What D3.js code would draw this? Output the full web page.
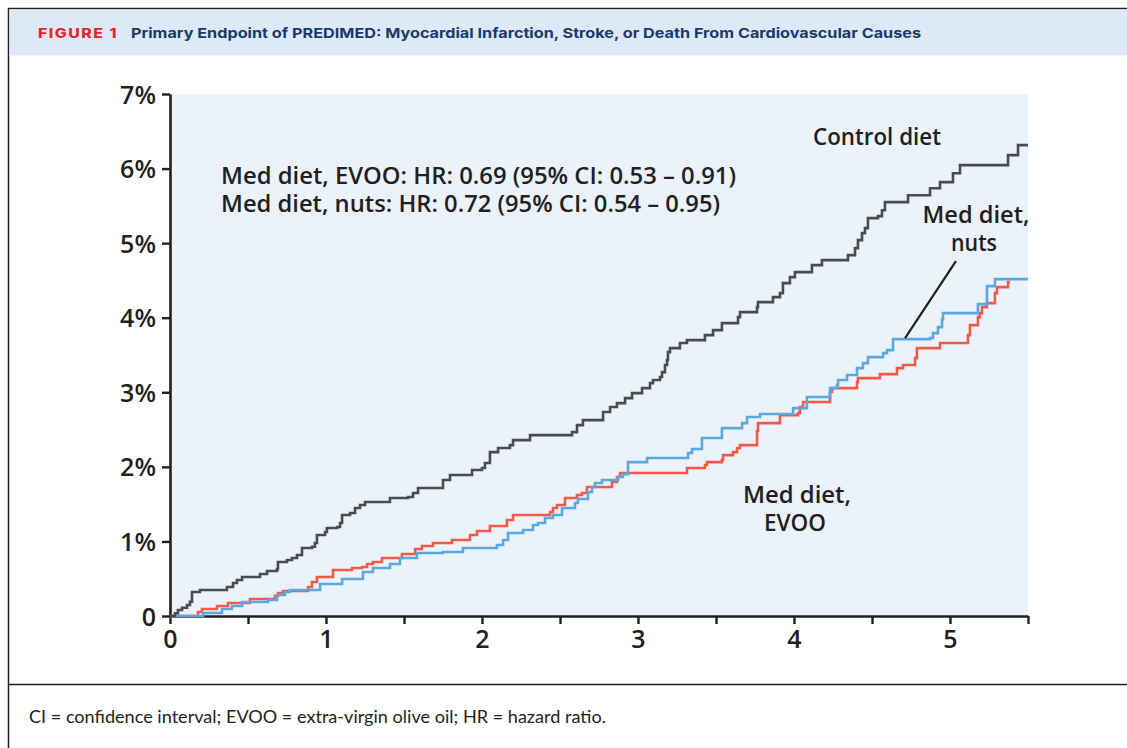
<!DOCTYPE html>
<html><head><meta charset="utf-8">
<script src="https://cdn.jsdelivr.net/npm/d3@7"></script>
<style>
html,body{margin:0;padding:0;background:#fff;}
svg{display:block;}
</style></head>
<body>
<svg id="chart" width="1127" height="748"></svg>
<script>
// ---------------- DATA ----------------
const figureLabel = "FIGURE 1";
const title = "Primary Endpoint of PREDIMED: Myocardial Infarction, Stroke, or Death From Cardiovascular Causes";
const footnote = "CI = confidence interval; EVOO = extra-virgin olive oil; HR = hazard ratio.";
const yTicks = [0,1,2,3,4,5,6,7];
const yTickLabels = ["0","1%","2%","3%","4%","5%","6%","7%"];
const xTicks = [0,0.5,1,1.5,2,2.5,3,3.5,4,4.5,5,5.5];
const xTickLabels = ["0","","1","","2","","3","","4","","5",""];
const hrLines = ["Med diet, EVOO: HR: 0.69 (95% CI: 0.53 \u2013 0.91)",
                 "Med diet, nuts: HR: 0.72 (95% CI: 0.54 \u2013 0.95)"];

// Control diet (years, cumulative %)
const controlTime = [0,0.032,0.051,0.077,0.109,0.128,0.141,0.192,0.365,0.404,0.429,0.462,0.577,0.622,0.686,0.692,0.750,0.782,0.814,0.846,0.910,0.929,0.942,0.994,1.006,1.071,1.090,1.103,1.154,1.186,1.218,1.250,1.410,1.526,1.558,1.590,1.750,1.795,1.936,2.000,2.019,2.051,2.103,2.179,2.199,2.308,2.577,2.609,2.647,2.776,2.821,2.865,2.917,2.962,3.026,3.077,3.096,3.141,3.154,3.173,3.186,3.192,3.205,3.269,3.314,3.429,3.481,3.538,3.641,3.654,3.763,3.769,3.865,3.910,3.929,3.974,4.006,4.115,4.179,4.346,4.391,4.410,4.436,4.455,4.474,4.538,4.564,4.583,4.731,4.872,4.936,5.019,5.064,5.372,5.436,5.5];
const controlPct  = [0,0.036,0.080,0.111,0.147,0.192,0.322,0.349,0.389,0.442,0.483,0.523,0.563,0.603,0.630,0.724,0.751,0.777,0.818,0.912,0.929,0.979,1.086,1.126,1.180,1.193,1.247,1.354,1.381,1.448,1.488,1.528,1.582,1.595,1.649,1.716,1.823,1.890,1.957,1.984,2.051,2.198,2.252,2.292,2.359,2.426,2.466,2.560,2.627,2.735,2.802,2.855,2.922,2.989,3.056,3.123,3.164,3.204,3.271,3.365,3.432,3.539,3.592,3.660,3.700,3.767,3.834,3.928,4.008,4.075,4.142,4.209,4.276,4.330,4.464,4.544,4.611,4.705,4.772,4.839,4.933,5.040,5.134,5.201,5.335,5.362,5.442,5.550,5.643,5.737,5.818,5.938,6.046,6.180,6.314,6.314];

// Med diet, EVOO
const evooTime = [0,0.179,0.205,0.301,0.372,0.513,0.673,0.692,0.724,0.885,0.910,0.942,1.045,1.167,1.231,1.263,1.301,1.359,1.487,1.571,1.615,1.686,1.808,1.923,1.968,2.051,2.160,2.199,2.436,2.455,2.481,2.532,2.609,2.641,2.673,2.833,2.865,2.885,3.314,3.429,3.442,3.538,3.545,3.609,3.635,3.654,3.763,3.769,3.910,4.026,4.038,4.058,4.231,4.244,4.404,4.410,4.551,4.660,4.699,4.776,4.788,4.936,5.115,5.128,5.179,5.192,5.205,5.237,5.288,5.301,5.372,5.385];
const evooPct  = [0,0.054,0.094,0.134,0.174,0.228,0.268,0.308,0.335,0.389,0.456,0.523,0.617,0.643,0.657,0.697,0.724,0.777,0.831,0.898,0.938,0.979,1.019,1.086,1.139,1.206,1.287,1.354,1.394,1.448,1.488,1.582,1.622,1.649,1.729,1.796,1.863,1.917,1.984,2.024,2.064,2.091,2.158,2.198,2.252,2.292,2.480,2.587,2.694,2.721,2.802,2.869,3.003,3.056,3.137,3.190,3.244,3.324,3.365,3.458,3.592,3.660,3.767,3.901,4.008,4.062,4.142,4.196,4.330,4.410,4.477,4.477];

// Med diet, nuts
const nutsTime = [0,0.212,0.333,0.397,0.462,0.628,0.686,0.737,0.769,0.962,1.103,1.237,1.301,1.410,1.474,1.583,1.750,1.878,2.096,2.135,2.167,2.263,2.327,2.359,2.404,2.455,2.513,2.596,2.615,2.679,2.705,2.724,2.769,2.872,2.904,2.936,3.058,3.321,3.346,3.410,3.538,3.667,3.699,3.782,3.994,4.083,4.231,4.276,4.282,4.340,4.404,4.442,4.474,4.571,4.596,4.635,4.872,4.891,4.923,4.949,4.955,5.179,5.237,5.288,5.5];
const nutsPct  = [0,0.040,0.094,0.134,0.188,0.214,0.282,0.322,0.349,0.429,0.496,0.590,0.643,0.697,0.777,0.845,0.858,0.912,0.952,1.019,1.113,1.153,1.220,1.247,1.314,1.354,1.448,1.515,1.568,1.662,1.729,1.783,1.823,1.863,1.903,2.064,2.118,2.185,2.239,2.386,2.520,2.587,2.668,2.708,2.788,2.936,3.056,3.097,3.164,3.231,3.324,3.391,3.472,3.525,3.566,3.713,3.727,3.794,3.874,3.981,4.062,4.182,4.424,4.517,4.517];

// pointer line for "Med diet, nuts" label (data coords)
const pointerX = [4.712, 5.038];
const pointerY = [3.727, 4.759];

// ---------------- DRAW ----------------
const svg = d3.select("#chart");
const W = 1127, H = 748;
const plot = {left:170, right:1028, top:94, bottom:616};
const font = "'Open Sans', 'Noto Sans', sans-serif";

function fit(sel, len){ // pin a text run to a measured width
  sel.attr("textLength", len).attr("lengthAdjust","spacingAndGlyphs");
  return sel;
}

// outer frame
svg.append("rect").attr("x",8.5).attr("y",8.5).attr("width",W+10).attr("height",H+10)
  .attr("fill","#fff").attr("stroke","#231f20").attr("stroke-width",1.5);
// header band
svg.append("rect").attr("x",9.5).attr("y",9.5).attr("width",W).attr("height",46)
  .attr("fill","#dde9f6");
fit(svg.append("text").attr("x",38).attr("y",38)
  .attr("font-family","Inter, Lato, sans-serif").attr("font-weight",800)
  .attr("font-size",13).attr("letter-spacing",1.2).attr("fill","#e8252d").text(figureLabel), 80);
fit(svg.append("text").attr("x",131).attr("y",38)
  .attr("font-family","Inter, Lato, sans-serif").attr("font-weight",700)
  .attr("font-size",13.8).attr("fill","#173a6b").text(title), 790);

// footer line + text
svg.append("line").attr("x1",9).attr("x2",W).attr("y1",684.5).attr("y2",684.5)
  .attr("stroke","#231f20").attr("stroke-width",1.5);
fit(svg.append("text").attr("x",29).attr("y",723).attr("font-family","Lato, sans-serif")
  .attr("font-size",17.5).attr("fill","#231f20").text(footnote), 577);

const x = d3.scaleLinear().domain([0,5.5]).range([plot.left,plot.right]);
const y = d3.scaleLinear().domain([0,7]).range([plot.bottom,plot.top]);

// plot background
svg.append("rect").attr("x",x(0)).attr("y",y(7)).attr("width",x(5.5)-x(0)).attr("height",y(0)-y(7))
  .attr("fill","#ebf2fb");

// axes
const yAxis = d3.axisLeft(y).tickValues(yTicks).tickSize(8).tickSizeOuter(0)
  .tickFormat((d,i)=>yTickLabels[i]).tickPadding(6);
const gy = svg.append("g").attr("transform",`translate(${plot.left},0)`).call(yAxis);
const xAxis = d3.axisBottom(x).tickValues(xTicks).tickSize(8).tickSizeOuter(0)
  .tickFormat((d,i)=>xTickLabels[i]).tickPadding(6);
const gx = svg.append("g").attr("transform",`translate(0,${plot.bottom})`).call(xAxis);
[gx,gy].forEach(g=>{
  g.select(".domain").attr("stroke","#231f20").attr("stroke-width",2.6);
  g.selectAll(".tick line").attr("stroke","#231f20").attr("stroke-width",2.4);
  g.selectAll(".tick text").attr("font-family",font).attr("font-size",25)
    .attr("font-weight",600).attr("fill","#231f20");
});
gy.selectAll(".tick text").attr("dy","0.36em");
gx.selectAll(".tick text").attr("dy","0.72em");

// curves
const line = d3.line().x(d=>x(d[0])).y(d=>y(d[1])).curve(d3.curveStepAfter);
const series = [
  {t:evooTime, p:evooPct, color:"#f15a47"},
  {t:nutsTime, p:nutsPct, color:"#5aa8de"},
  {t:controlTime, p:controlPct, color:"#4a4b4d"}
];
series.forEach(s=>{
  const pts = s.t.map((t,i)=>[t,s.p[i]]);
  svg.append("path").attr("d",line(pts)).attr("fill","none")
    .attr("stroke",s.color).attr("stroke-width",2.6).attr("stroke-linejoin","miter");
});

// pointer line
svg.append("line").attr("x1",x(pointerX[0])).attr("y1",y(pointerY[0]))
  .attr("x2",x(pointerX[1])).attr("y2",y(pointerY[1]))
  .attr("stroke","#231f20").attr("stroke-width",2.2);

// labels
const lab = (txt,xx,yy,len,anchor)=>fit(svg.append("text").attr("x",xx).attr("y",yy)
  .attr("text-anchor",anchor||"middle").attr("font-family",font).attr("font-size",23)
  .attr("font-weight",600).attr("fill","#231f20").text(txt), len);
lab("Control diet", 877, 145, 128);
lab("Med diet,", 976, 223, 107);
lab("nuts", 974, 251, 46);
lab("Med diet,", 797, 503, 108);
lab("EVOO", 795, 531, 62);
lab(hrLines[0], 221, 184, 515, "start");
lab(hrLines[1], 221, 212, 499, "start");
</script>
</body></html>
